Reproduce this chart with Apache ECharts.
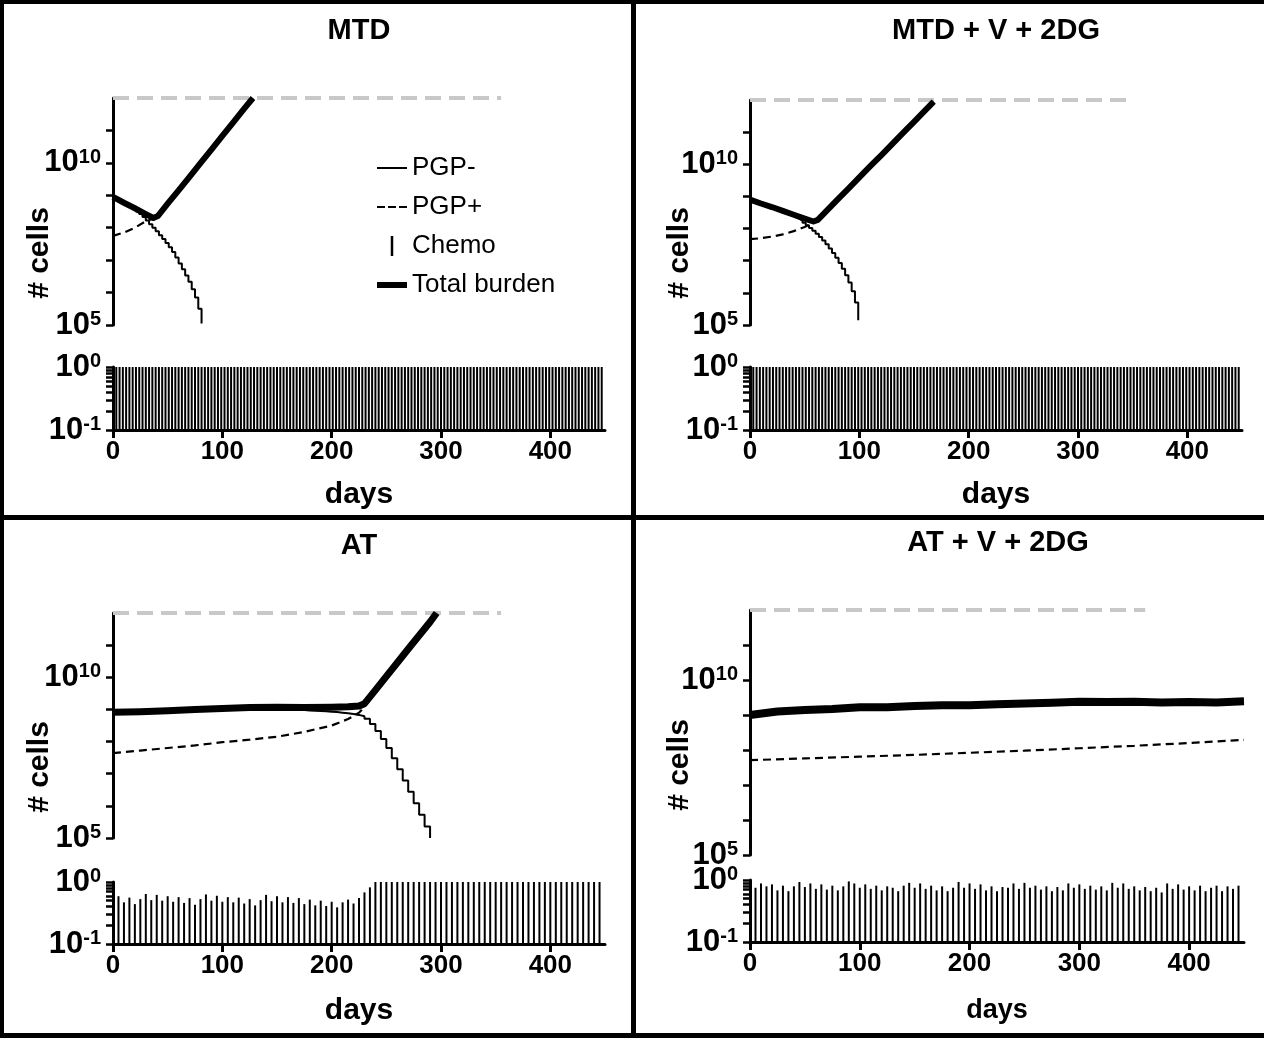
<!DOCTYPE html>
<html>
<head>
<meta charset="utf-8">
<title>MTD / AT tumour burden</title>
<script src="https://cdn.jsdelivr.net/npm/echarts@6/dist/echarts.min.js"></script>
<style>
  html, body { margin: 0; padding: 0; background: #fff; }
  #chart { width: 1264px; height: 1038px; }
</style>
</head>
<body>
<div id="chart"></div>
<script>
// ---------- data (cell counts are written as log10 values) ----------
const dayTicks = [0, 100, 200, 300, 400];
const cellLabels = [1e5, 1e10];
const cellTickMarks = [1e5, 1e6, 1e7, 1e8, 1e9, 1e10, 1e11];
const doseLabels = [0.1, 1];
const doseTickMarks = [0.1, 0.2, 0.3, 0.4, 0.5, 0.6, 0.7, 0.8, 0.9, 1];
const thresholdCells = 1e12;

// MTD
const mtdTotalDays = [0, 10, 20, 30, 37, 41, 50, 60, 70, 80, 90, 100, 110, 120, 128];
const mtdTotalLog = [8.95, 8.77, 8.60, 8.42, 8.30, 8.36, 8.74, 9.15, 9.57, 9.99, 10.41, 10.83, 11.25, 11.67, 12.0];
const mtdPlusLog = [7.75, 7.85, 8.00, 8.20, 8.28, 8.34, 8.73, 9.14, 9.56, 9.98, 10.40, 10.82, 11.24, 11.66, 11.99];
// PGP- sampled at each dose (every 3 days)
const mtdMinusLog = [8.92, 8.88, 8.82, 8.76, 8.70, 8.64, 8.58, 8.50, 8.42, 8.33, 8.22, 8.11, 8.00, 7.89,
  7.77, 7.65, 7.53, 7.40, 7.25, 7.08, 6.90, 6.72, 6.53, 6.33, 6.10, 5.85, 5.50, 5.05];
const mtdDoseEvery = 3;
const mtdDoses = [
  1,1,1,1,1,1,1,1,1,1,1,1,1,1,1,1,1,1,1,1,1,1,1,1,1,1,1,1,1,1,
  1,1,1,1,1,1,1,1,1,1,1,1,1,1,1,1,1,1,1,1,1,1,1,1,1,1,1,1,1,1,
  1,1,1,1,1,1,1,1,1,1,1,1,1,1,1,1,1,1,1,1,1,1,1,1,1,1,1,1,1,1,
  1,1,1,1,1,1,1,1,1,1,1,1,1,1,1,1,1,1,1,1,1,1,1,1,1,1,1,1,1,1,
  1,1,1,1,1,1,1,1,1,1,1,1,1,1,1,1,1,1,1,1,1,1,1,1,1,1,1,1,1,1];
const mtdThresholdEnd = 355;

// MTD + V + 2DG
const mvTotalDays = [0, 10, 20, 30, 40, 50, 58, 62, 70, 80, 90, 100, 110, 120, 130, 140, 150, 160, 168];
const mvTotalLog = [8.90, 8.78, 8.67, 8.55, 8.43, 8.31, 8.22, 8.27, 8.55, 8.90, 9.24, 9.59, 9.94, 10.28, 10.63, 10.98, 11.32, 11.67, 11.95];
const mvPlusLog = [7.67, 7.70, 7.75, 7.82, 7.92, 8.05, 8.18, 8.25, 8.54, 8.89, 9.23, 9.58, 9.93, 10.27, 10.62, 10.97, 11.31, 11.66, 11.94];
const mvMinusLog = [8.88, 8.85, 8.81, 8.77, 8.74, 8.70, 8.66, 8.62, 8.58, 8.54, 8.50, 8.46, 8.41, 8.36, 8.31, 8.25, 8.18,
  8.10, 8.02, 7.93, 7.84, 7.74, 7.63, 7.51, 7.38, 7.24, 7.09, 6.93, 6.75, 6.55, 6.32, 6.05, 5.70, 5.15];
const mvDoseEvery = 3;
const mvDoses = [
  1,1,1,1,1,1,1,1,1,1,1,1,1,1,1,1,1,1,1,1,1,1,1,1,1,1,1,1,1,1,
  1,1,1,1,1,1,1,1,1,1,1,1,1,1,1,1,1,1,1,1,1,1,1,1,1,1,1,1,1,1,
  1,1,1,1,1,1,1,1,1,1,1,1,1,1,1,1,1,1,1,1,1,1,1,1,1,1,1,1,1,1,
  1,1,1,1,1,1,1,1,1,1,1,1,1,1,1,1,1,1,1,1,1,1,1,1,1,1,1,1,1,1,
  1,1,1,1,1,1,1,1,1,1,1,1,1,1,1,1,1,1,1,1,1,1,1,1,1,1,1,1,1,1];
const mvThresholdEnd = 350;

// AT
const atTotalDays = [0, 25, 50, 75, 100, 125, 150, 175, 200, 215, 225, 230, 240, 250, 260, 270, 280, 290, 296];
const atTotalLog = [8.91, 8.93, 8.96, 9.00, 9.03, 9.06, 9.07, 9.06, 9.07, 9.08, 9.11, 9.18, 9.60, 10.03, 10.45, 10.88, 11.30, 11.72, 12.0];
const atPlusLog = [7.64, 7.72, 7.80, 7.88, 7.98, 8.06, 8.15, 8.30, 8.50, 8.70, 8.90, 9.08, 9.58, 10.02, 10.44, 10.87, 11.29, 11.71, 11.99];
// PGP- sampled at each dose (every 5 days)
const atMinusLog = [8.89, 8.89, 8.90, 8.90, 8.91, 8.91, 8.92, 8.92, 8.93, 8.93,
  8.94, 8.94, 8.95, 8.95, 8.96, 8.97, 8.97, 8.98, 8.98, 8.99,
  8.99, 9.00, 9.00, 9.00, 9.01, 9.01, 9.01, 9.01, 9.01, 9.01,
  9.01, 9.00, 9.00, 8.99, 8.98, 8.97, 8.96, 8.95, 8.94, 8.93,
  8.92, 8.90, 8.88, 8.86, 8.83, 8.79, 8.71, 8.55, 8.33, 8.08,
  7.80, 7.48, 7.14, 6.79, 6.44, 6.08, 5.72, 5.36, 5.00];
const atDoseEvery = 5;
const atDoses = [
  0.60, 0.59, 0.47, 0.56, 0.44, 0.53, 0.64, 0.51, 0.62, 0.50,
  0.59, 0.48, 0.57, 0.46, 0.55, 0.43, 0.53, 0.63, 0.50, 0.60,
  0.48, 0.57, 0.47, 0.56, 0.45, 0.53, 0.42, 0.51, 0.62, 0.49,
  0.59, 0.47, 0.57, 0.46, 0.55, 0.44, 0.52, 0.42, 0.50, 0.41,
  0.48, 0.39, 0.47, 0.52, 0.45, 0.55, 0.68, 0.82,
  1, 1, 1, 1, 1, 1, 1, 1, 1, 1, 1, 1, 1, 1, 1, 1, 1, 1, 1, 1, 1,
  1, 1, 1, 1, 1, 1, 1, 1, 1, 1, 1, 1, 1, 1, 1, 1, 1, 1, 1, 1, 1];
const atThresholdEnd = 355;

// AT + V + 2DG
const avTotalDays = [0, 25, 50, 75, 100, 125, 150, 175, 200, 225, 250, 275, 300, 325, 350, 375, 400, 425, 450];
const avTotalLog = [9.00, 9.10, 9.14, 9.17, 9.22, 9.22, 9.26, 9.28, 9.28, 9.31, 9.33, 9.35, 9.38, 9.37, 9.38, 9.36, 9.37, 9.36, 9.39];
const avMinusLog = [8.98, 9.08, 9.12, 9.15, 9.20, 9.20, 9.24, 9.26, 9.25, 9.28, 9.30, 9.32, 9.35, 9.33, 9.34, 9.31, 9.32, 9.30, 9.33];
const avPlusDays = [0, 50, 100, 150, 200, 250, 300, 350, 400, 450];
const avPlusLog = [7.71, 7.76, 7.81, 7.86, 7.92, 7.98, 8.05, 8.12, 8.20, 8.29];
const avDoseEvery = 5;
const avDoses = [
  0.62, 0.75, 0.88, 0.79, 0.85, 0.68, 0.81, 0.66, 0.79, 0.93,
  0.77, 0.88, 0.72, 0.85, 0.70, 0.81, 0.68, 0.79, 0.95, 0.88,
  0.75, 0.85, 0.72, 0.81, 0.68, 0.79, 0.75, 0.66, 0.81, 0.90,
  0.75, 0.88, 0.72, 0.81, 0.68, 0.79, 0.66, 0.75, 0.93, 0.75,
  0.88, 0.72, 0.85, 0.68, 0.79, 0.66, 0.77, 0.75, 0.88, 0.72,
  0.90, 0.75, 0.81, 0.70, 0.79, 0.66, 0.77, 0.68, 0.88, 0.75,
  0.85, 0.72, 0.81, 0.70, 0.79, 0.68, 0.90, 0.75, 0.88, 0.72,
  0.79, 0.68, 0.77, 0.66, 0.75, 0.63, 0.88, 0.72, 0.85, 0.70,
  0.79, 0.68, 0.81, 0.66, 0.75, 0.81, 0.66, 0.79, 0.72, 0.81];
const avThresholdEnd = 360;

// ---------- helpers ----------
const FONT = '"Liberation Sans", Arial, Helvetica, sans-serif';
const NARROW = '"Liberation Sans Narrow", "Liberation Sans", Arial, sans-serif';

const pairs = (days, logs) => days.map((d, i) => [d, Math.pow(10, logs[i])]);
const perDose = (step, logs) => logs.map((v, i) => [i * step, Math.pow(10, v)]);
const doseBars = (step, doses) => doses.map((v, i) => [i * step, v]);

function powLabel(v) {
  const e = Math.round(Math.log10(v));
  return '{b|10}{s|' + e + '}';
}
const powRich = {
  b: { fontSize: 31, fontWeight: 'bold', fontFamily: FONT, color: '#000' },
  s: { fontSize: 20, fontWeight: 'bold', fontFamily: FONT, color: '#000', verticalAlign: 'top' }
};

const panels = [
  {
    title: 'MTD', total: pairs(mtdTotalDays, mtdTotalLog), plus: pairs(mtdTotalDays, mtdPlusLog),
    minus: perDose(mtdDoseEvery, mtdMinusLog), doses: doseBars(mtdDoseEvery, mtdDoses), thrEnd: mtdThresholdEnd,
    box: { left: 113, width: 492, upTop: 98, upH: 227, lowTop: 367, lowH: 63, titleX: 359, titleY: 31, cellsX: 40, cellsY: 253, nameGap: 50, nameSize: 30, thick: 6 }
  },
  {
    title: 'MTD + V + 2DG', total: pairs(mvTotalDays, mvTotalLog), plus: pairs(mvTotalDays, mvPlusLog),
    minus: perDose(mvDoseEvery, mvMinusLog), doses: doseBars(mvDoseEvery, mvDoses), thrEnd: mvThresholdEnd,
    box: { left: 750, width: 492, upTop: 100, upH: 225, lowTop: 367, lowH: 63, titleX: 996, titleY: 31, cellsX: 680, cellsY: 253, nameGap: 50, nameSize: 30, thick: 6 }
  },
  {
    title: 'AT', total: pairs(atTotalDays, atTotalLog), plus: pairs(atTotalDays, atPlusLog),
    minus: perDose(atDoseEvery, atMinusLog), doses: doseBars(atDoseEvery, atDoses), thrEnd: atThresholdEnd,
    box: { left: 113, width: 492, upTop: 613, upH: 225, lowTop: 882, lowH: 62, titleX: 359, titleY: 546, cellsX: 40, cellsY: 767, nameGap: 52, nameSize: 30, thick: 7 }
  },
  {
    title: 'AT + V + 2DG', total: pairs(avTotalDays, avTotalLog), plus: pairs(avPlusDays, avPlusLog),
    minus: pairs(avTotalDays, avMinusLog), doses: doseBars(avDoseEvery, avDoses), thrEnd: avThresholdEnd,
    box: { left: 750, width: 494, upTop: 610, upH: 245, lowTop: 880, lowH: 62, titleX: 998, titleY: 543, cellsX: 680, cellsY: 765, nameGap: 55, nameSize: 27, thick: 8 }
  }
];

// ---------- build option ----------
const grid = [], xAxis = [], yAxis = [], series = [], graphic = [];
const axisLine = { show: true, onZero: false, lineStyle: { color: '#000', width: 3 } };

panels.forEach((p, k) => {
  const b = p.box;
  const up = k * 2, low = k * 2 + 1;
  grid.push({ left: b.left, top: b.upTop, width: b.width, height: b.upH });
  grid.push({ left: b.left, top: b.lowTop, width: b.width, height: b.lowH });

  xAxis.push({ gridIndex: up, type: 'value', min: 0, max: 450, show: false });
  xAxis.push({
    gridIndex: low, type: 'value', min: 0, max: 450, interval: 100,
    name: 'days', nameLocation: 'middle', nameGap: b.nameGap,
    nameTextStyle: { fontSize: b.nameSize, fontWeight: 'bold', fontFamily: FONT, color: '#000' },
    axisLine: axisLine,
    axisTick: { customValues: dayTicks, length: 8, lineStyle: { color: '#000', width: 3 } },
    axisLabel: { customValues: dayTicks, fontSize: 26, fontWeight: 'bold', fontFamily: NARROW, color: '#000', margin: 9 },
    splitLine: { show: false }
  });

  yAxis.push({
    gridIndex: up, type: 'log', logBase: 10, min: 1e5, max: 1e12,
    axisLine: axisLine,
    axisTick: { customValues: cellTickMarks, length: 7, lineStyle: { color: '#000', width: 2.5 } },
    axisLabel: { customValues: cellLabels, formatter: powLabel, rich: powRich, margin: 12 },
    splitLine: { show: false }
  });
  yAxis.push({
    gridIndex: low, type: 'log', logBase: 10, min: 0.1, max: 1, startValue: 0.1,
    axisLine: axisLine,
    axisTick: { customValues: doseTickMarks, length: 7, lineStyle: { color: '#000', width: 2.5 } },
    axisLabel: { customValues: doseLabels, formatter: powLabel, rich: powRich, margin: 12 },
    splitLine: { show: false }
  });

  series.push({
    name: 'PGP-', type: 'line', xAxisIndex: up, yAxisIndex: up, data: p.minus,
    step: k === 3 ? false : 'end', symbol: 'none', silent: true, z: 2,
    lineStyle: { color: '#000', width: 2 }, itemStyle: { color: '#000' }
  });
  series.push({
    name: 'PGP+', type: 'line', xAxisIndex: up, yAxisIndex: up, data: p.plus,
    symbol: 'none', silent: true, z: 2,
    lineStyle: { color: '#000', width: 2.2, type: [8, 5] }, itemStyle: { color: '#000' }
  });
  series.push({
    name: 'Total burden', type: 'line', xAxisIndex: up, yAxisIndex: up, data: p.total,
    symbol: 'none', silent: true, z: 3,
    lineStyle: { color: '#000', width: b.thick, join: 'round' }, itemStyle: { color: '#000' },
    markLine: {
      silent: true, symbol: 'none', label: { show: false }, z: 1,
      lineStyle: { color: '#c8c8c8', width: 4, type: [16, 8] },
      data: [[{ coord: [0, thresholdCells] }, { coord: [p.thrEnd, thresholdCells] }]]
    }
  });
  series.push({
    name: 'Chemo', type: 'bar', xAxisIndex: low, yAxisIndex: low, data: p.doses,
    barWidth: 2, silent: true, itemStyle: { color: '#000' }
  });

  graphic.push({
    type: 'text', x: b.titleX, y: b.titleY,
    style: { text: p.title, fill: '#000', fontSize: 29, fontWeight: 'bold', fontFamily: FONT, align: 'center', verticalAlign: 'middle' }
  });
  graphic.push({
    type: 'text', x: b.cellsX, y: b.cellsY, rotation: Math.PI / 2,
    style: { text: '# cells', fill: '#000', fontSize: 30, fontWeight: 'bold', fontFamily: FONT, align: 'center', verticalAlign: 'middle' }
  });
});

// panel frame
[
  { x: 0, y: 0, width: 1264, height: 4 },
  { x: 0, y: 0, width: 4, height: 1038 },
  { x: 0, y: 1033, width: 1264, height: 5 },
  { x: 631, y: 0, width: 5, height: 1038 },
  { x: 0, y: 515, width: 1264, height: 5 }
].forEach(r => graphic.push({ type: 'rect', shape: r, style: { fill: '#000' }, z: 10 }));

const option = {
  animation: false,
  backgroundColor: '#fff',
  grid, xAxis, yAxis, series, graphic,
  legend: {
    orient: 'vertical', left: 372, top: 150,
    itemWidth: 30, itemHeight: 20, itemGap: 13,
    selectedMode: false,
    itemStyle: { borderWidth: 0 },
    textStyle: { fontSize: 26, fontFamily: FONT, color: '#000', lineHeight: 24 },
    data: [
      { name: 'PGP-', icon: 'path://M0,0H30V2H0Z' },
      { name: 'PGP+', icon: 'path://M0,0H8V2H0Z M11,0H19V2H11Z M22,0H30V2H22Z' },
      { name: 'Chemo', icon: 'path://M0,0H3V24H0Z' },
      { name: 'Total burden', icon: 'path://M0,0H30V6H0Z' }
    ]
  }
};

const chart = echarts.init(document.getElementById('chart'));
chart.setOption(option);
</script>
</body>
</html>
